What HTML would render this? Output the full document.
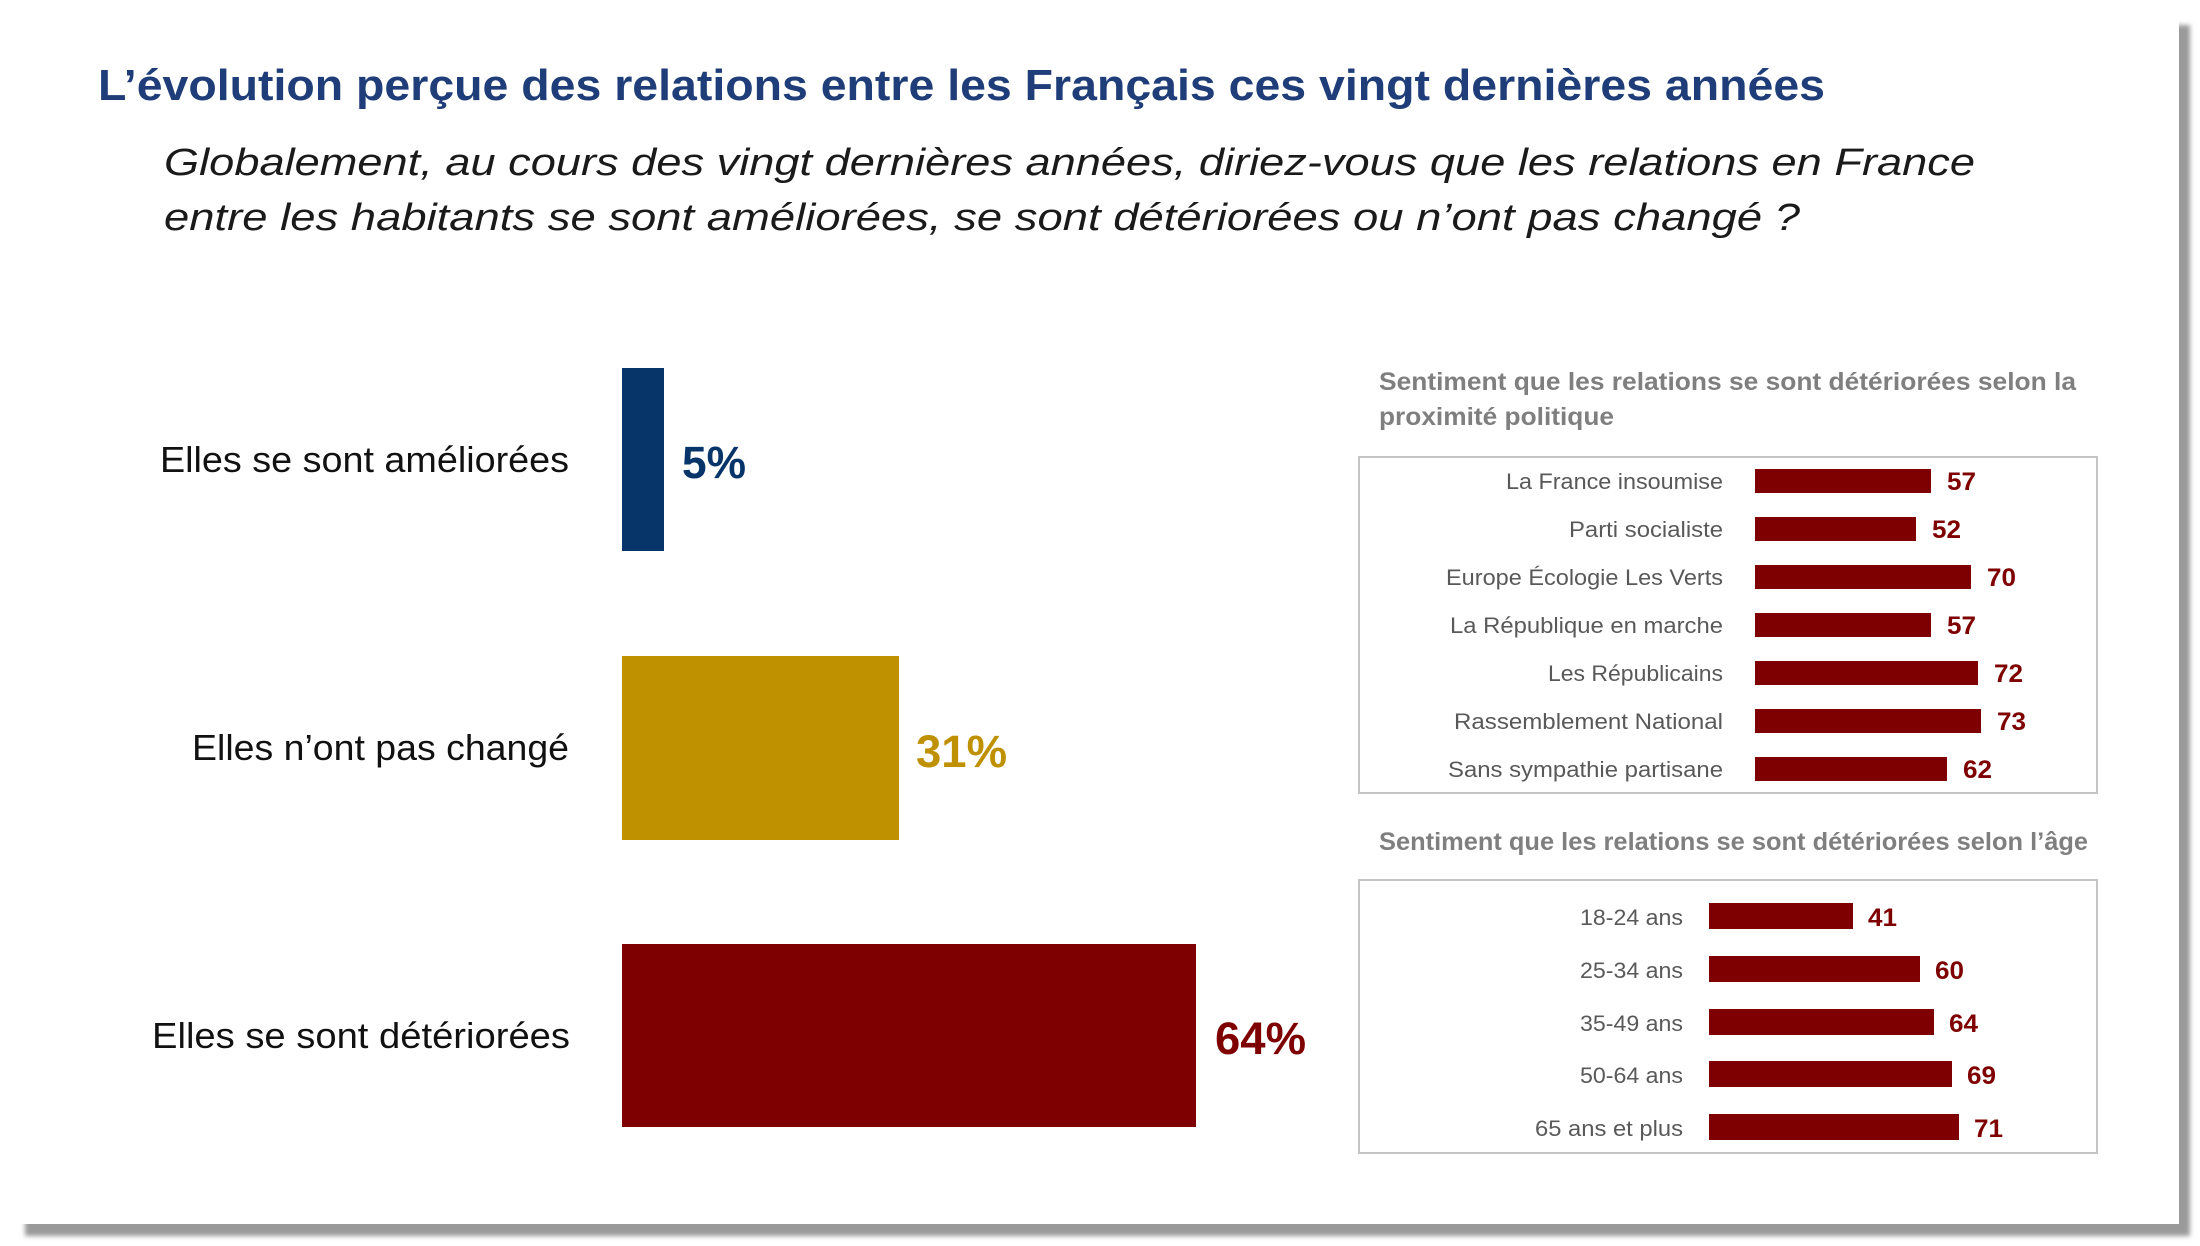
<!DOCTYPE html>
<html>
<head>
<meta charset="utf-8">
<style>
  html,body{margin:0;padding:0;background:#fff;}
  svg{display:block;}
  text{font-family:"Liberation Sans", Arial, sans-serif;}
</style>
</head>
<body>
<svg width="2200" height="1246" viewBox="0 0 2200 1246" xmlns="http://www.w3.org/2000/svg">
  <defs>
    <filter id="sh" x="-5%" y="-5%" width="110%" height="110%">
      <feGaussianBlur stdDeviation="2.5"/>
    </filter>
  </defs>
  <rect x="0" y="0" width="2200" height="1246" fill="#ffffff"/>
  <!-- card shadow -->
  <rect x="25" y="25" width="2165" height="1211" fill="#9a9a9a" filter="url(#sh)"/>
  <!-- card -->
  <rect x="0" y="0" width="2179" height="1224" fill="#ffffff"/>

  <!-- Title -->
  <text x="98" y="100" font-size="44" font-weight="bold" fill="#1f3d78" textLength="1727" lengthAdjust="spacingAndGlyphs">L’évolution perçue des relations entre les Français ces vingt dernières années</text>
  <!-- Subtitle -->
  <text x="164" y="175" font-size="38" font-style="italic" fill="#1a1a1a" textLength="1811" lengthAdjust="spacingAndGlyphs">Globalement, au cours des vingt dernières années, diriez-vous que les relations en France</text>
  <text x="164" y="230" font-size="38" font-style="italic" fill="#1a1a1a" textLength="1636" lengthAdjust="spacingAndGlyphs">entre les habitants se sont améliorées, se sont détériorées ou n’ont pas changé ?</text>

  <!-- Main chart -->
  <text x="160" y="472" font-size="36" fill="#111" textLength="409" lengthAdjust="spacingAndGlyphs">Elles se sont améliorées</text>
  <rect x="622" y="368" width="42" height="183" fill="#07356a"/>
  <text x="682" y="478" font-size="45" font-weight="bold" fill="#07356a" textLength="64" lengthAdjust="spacingAndGlyphs">5%</text>

  <text x="192" y="760" font-size="36" fill="#111" textLength="377" lengthAdjust="spacingAndGlyphs">Elles n’ont pas changé</text>
  <rect x="622" y="656" width="277" height="184" fill="#bf9000"/>
  <text x="916" y="767" font-size="45" font-weight="bold" fill="#bf9000" textLength="91" lengthAdjust="spacingAndGlyphs">31%</text>

  <text x="152" y="1048" font-size="36" fill="#111" textLength="418" lengthAdjust="spacingAndGlyphs">Elles se sont détériorées</text>
  <rect x="622" y="944" width="574" height="183" fill="#7f0000"/>
  <text x="1215" y="1054" font-size="45" font-weight="bold" fill="#7f0000" textLength="91" lengthAdjust="spacingAndGlyphs">64%</text>

  <!-- Right panel 1 -->
  <text x="1379" y="390" font-size="25" font-weight="bold" fill="#7f7f7f" textLength="697" lengthAdjust="spacingAndGlyphs">Sentiment que les relations se sont détériorées selon la</text>
  <text x="1379" y="425" font-size="25" font-weight="bold" fill="#7f7f7f" textLength="235" lengthAdjust="spacingAndGlyphs">proximité politique</text>
  <rect x="1359" y="457" width="738" height="336" fill="none" stroke="#c4c4c4" stroke-width="2"/>

  <g font-size="22.5" fill="#595959">
    <text x="1506" y="489" textLength="217" lengthAdjust="spacingAndGlyphs">La France insoumise</text>
    <text x="1569" y="537" textLength="154" lengthAdjust="spacingAndGlyphs">Parti socialiste</text>
    <text x="1446" y="585" textLength="277" lengthAdjust="spacingAndGlyphs">Europe Écologie Les Verts</text>
    <text x="1450" y="633" textLength="273" lengthAdjust="spacingAndGlyphs">La République en marche</text>
    <text x="1548" y="681" textLength="175" lengthAdjust="spacingAndGlyphs">Les Républicains</text>
    <text x="1454" y="729" textLength="269" lengthAdjust="spacingAndGlyphs">Rassemblement National</text>
    <text x="1448" y="777" textLength="275" lengthAdjust="spacingAndGlyphs">Sans sympathie partisane</text>
  </g>
  <g fill="#7f0000">
    <rect x="1755" y="469" width="176" height="24"/>
    <rect x="1755" y="517" width="161" height="24"/>
    <rect x="1755" y="565" width="216" height="24"/>
    <rect x="1755" y="613" width="176" height="24"/>
    <rect x="1755" y="661" width="223" height="24"/>
    <rect x="1755" y="709" width="226" height="24"/>
    <rect x="1755" y="757" width="192" height="24"/>
  </g>
  <g font-size="25" font-weight="bold" fill="#7f0000">
    <text x="1947" y="490" textLength="29" lengthAdjust="spacingAndGlyphs">57</text>
    <text x="1932" y="538" textLength="29" lengthAdjust="spacingAndGlyphs">52</text>
    <text x="1987" y="586" textLength="29" lengthAdjust="spacingAndGlyphs">70</text>
    <text x="1947" y="634" textLength="29" lengthAdjust="spacingAndGlyphs">57</text>
    <text x="1994" y="682" textLength="29" lengthAdjust="spacingAndGlyphs">72</text>
    <text x="1997" y="730" textLength="29" lengthAdjust="spacingAndGlyphs">73</text>
    <text x="1963" y="778" textLength="29" lengthAdjust="spacingAndGlyphs">62</text>
  </g>

  <!-- Right panel 2 -->
  <text x="1379" y="850" font-size="25" font-weight="bold" fill="#7f7f7f" textLength="709" lengthAdjust="spacingAndGlyphs">Sentiment que les relations se sont détériorées selon l’âge</text>
  <rect x="1359" y="880" width="738" height="273" fill="none" stroke="#c4c4c4" stroke-width="2"/>

  <g font-size="22.5" fill="#595959">
    <text x="1580" y="925" textLength="103" lengthAdjust="spacingAndGlyphs">18-24 ans</text>
    <text x="1580" y="978" textLength="103" lengthAdjust="spacingAndGlyphs">25-34 ans</text>
    <text x="1580" y="1031" textLength="103" lengthAdjust="spacingAndGlyphs">35-49 ans</text>
    <text x="1580" y="1083" textLength="103" lengthAdjust="spacingAndGlyphs">50-64 ans</text>
    <text x="1535" y="1136" textLength="148" lengthAdjust="spacingAndGlyphs">65 ans et plus</text>
  </g>
  <g fill="#7f0000">
    <rect x="1709" y="903" width="144" height="26"/>
    <rect x="1709" y="956" width="211" height="26"/>
    <rect x="1709" y="1009" width="225" height="26"/>
    <rect x="1709" y="1061" width="243" height="26"/>
    <rect x="1709" y="1114" width="250" height="26"/>
  </g>
  <g font-size="25" font-weight="bold" fill="#7f0000">
    <text x="1868" y="926" textLength="29" lengthAdjust="spacingAndGlyphs">41</text>
    <text x="1935" y="979" textLength="29" lengthAdjust="spacingAndGlyphs">60</text>
    <text x="1949" y="1032" textLength="29" lengthAdjust="spacingAndGlyphs">64</text>
    <text x="1967" y="1084" textLength="29" lengthAdjust="spacingAndGlyphs">69</text>
    <text x="1974" y="1137" textLength="29" lengthAdjust="spacingAndGlyphs">71</text>
  </g>
</svg>
</body>
</html>
